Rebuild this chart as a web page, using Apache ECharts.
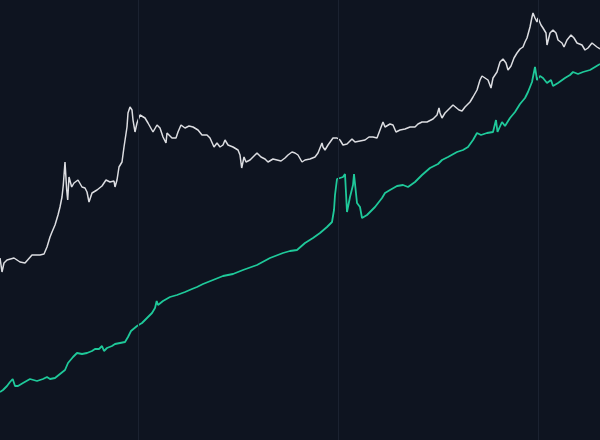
<!DOCTYPE html>
<html>
<head>
<meta charset="utf-8">
<script src="https://cdn.jsdelivr.net/npm/echarts@6/dist/echarts.min.js"></script>
<style>html,body{margin:0;padding:0;background:#0e1420;}#c{width:600px;height:440px;}</style>
</head>
<body>
<div id="c"></div>
<script>
// Period marks (x positions of vertical guide lines)
const periodMarks = [138, 338, 538];

// Upper (white) series: [x, value]
const priceSeries = [
[0,182],[2,168],[4,177],[7,180],[14,182],[20,178],[25,177],[32,185],[40,185],[44,186],
[47,193],[50,203],[52,208],[55,215],[58,225],[60,233],[62,243],[63.3,255],[65,278],[66.7,250],
[67.7,240],[69,263],[70.7,265],[71.7,253],[74,257],[78,260],[82,253],[85,252],[87,248],[89,238],
[92,247],[97,250],[102,254],[106,260],[110,258],[114,259],[115,253],[117,260],[119,273],[122,278],
[124,293],[127,313],[128,327],[130,333],[132,330],[133,320],[135,308],[137,317],[140,325],[145,322],
[148,317],[153,308],[157,315],[160,312],[163,303],[166,297],[167,307],[172,302],[176,302],[178,308],
[181,315],[185,312],[189,314],[193,313],[198,310],[202,305],[207,305],[210,302],[214,293],[217,297],
[220,293],[223,295],[225,300],[228,295],[233,293],[238,290],[240,285],[241.7,272],[244,283],[246,278],
[250,280],[253,283],[257,287],[261,283],[265,281],[268,278],[273,281],[277,280],[281,279],[285,282],
[288,285],[292,288],[295,287],[298,285],[302,278],[305,280],[310,281],[315,283],[318,287],[322,297],
[323,293],[325,290],[328,295],[333,302],[337,302],[340,300],[343,295],[347,296],[352,301],[355,298],
[360,299],[365,300],[369,303],[373,303],[377,302],[380,310],[383,318],[385,313],[390,316],[393,315],
[396,308],[400,310],[405,311],[410,313],[415,313],[418,316],[422,318],[427,318],[433,321],[437,325],
[439,332],[440,327],[442,322],[445,327],[448,330],[453,335],[455,337],[459,330],[462,329],[465,333],
[470,338],[473,343],[477,350],[480,360],[482,364],[485,362],[488,360],[491,352],[493,362],[497,368],
[500,378],[503,381],[506,377],[508,370],[511,374],[514,382],[517,387],[520,391],[523,393],[525,398],
[527,402],[530,413],[532,423],[533,427],[535,422],[537,418],[538,422],[541,415],[543,412],[546,407],
[547,395],[550,407],[553,410],[556,407],[558,400],[562,397],[564,393],[567,400],[571,405],[574,402],
[577,397],[582,395],[585,390],[588,392],[592,397],[594,399],[597,393],[600,391]
];

// Lower (teal) series: [x, value]
const modelSeries = [
[0,48],[3,50],[7,54],[10,58],[12.7,61],[15,54],[18,54],[23,57],[30,61],[37,59],
[43,61],[47,63],[50,61],[55,62],[60,66],[65,70],[68,77],[73,83],[77,87],[82,86],
[87,87],[92,89],[95,91],[99,91],[102,94],[104,89],[107,92],[112,94],[115,96],[120,97],
[125,98],[128,103],[131,109],[137,114],[142,117],[147,122],[152,127],[155,132],[156.7,139],[158,135],
[163,139],[170,143],[177,145],[185,148],[192,151],[197,153],[203,156],[213,160],[223,164],[233,166],
[243,170],[257,175],[270,182],[283,187],[290,189],[297,190],[305,197],[313,202],[320,207],[327,213],
[332,218],[334,230],[335,245],[337,261],[340,262],[343,263],[345,266],[347,228],[350,243],[353,255],
[354,266],[357,237],[360,233],[362,222],[367,225],[375,233],[382,242],[385,247],[390,250],[397,254],
[403,255],[408,253],[415,258],[422,265],[430,272],[438,276],[442,280],[448,283],[457,288],[463,290],
[468,293],[473,300],[477,307],[481,305],[487,307],[493,308],[496,320],[497.5,308],[502,318],[505,314],
[510,322],[515,328],[520,336],[525,342],[528,348],[532,358],[535,373],[537,360],[540,364],[543,362],
[547,357],[551,360],[553,354],[558,357],[565,362],[570,365],[573,368],[578,366],[583,368],[590,370],
[595,373],[600,376]
];

const chart = echarts.init(document.getElementById('c'), null, {renderer: 'canvas'});
chart.setOption({
  backgroundColor: '#0e1420',
  animation: false,
  grid: {left: 0, right: 0, top: 0, bottom: 0},
  xAxis: {type: 'value', min: 0, max: 600, show: false},
  yAxis: {type: 'value', min: 0, max: 440, show: false},
  series: [
    {
      type: 'line', data: [], silent: true, z: 1,
      markLine: {
        silent: true, symbol: ['none', 'none'], label: {show: false},
        lineStyle: {color: '#1b2230', width: 1, type: 'solid'},
        data: periodMarks.map(v => ({xAxis: v}))
      }
    },
    {
      type: 'line', data: modelSeries, showSymbol: false, z: 3,
      lineStyle: {color: '#1fc99a', width: 1.8}
    },
    {
      type: 'line', data: priceSeries, showSymbol: false, z: 4,
      lineStyle: {color: '#dcdde1', width: 1.5}
    }
  ]
});
</script>
</body>
</html>
